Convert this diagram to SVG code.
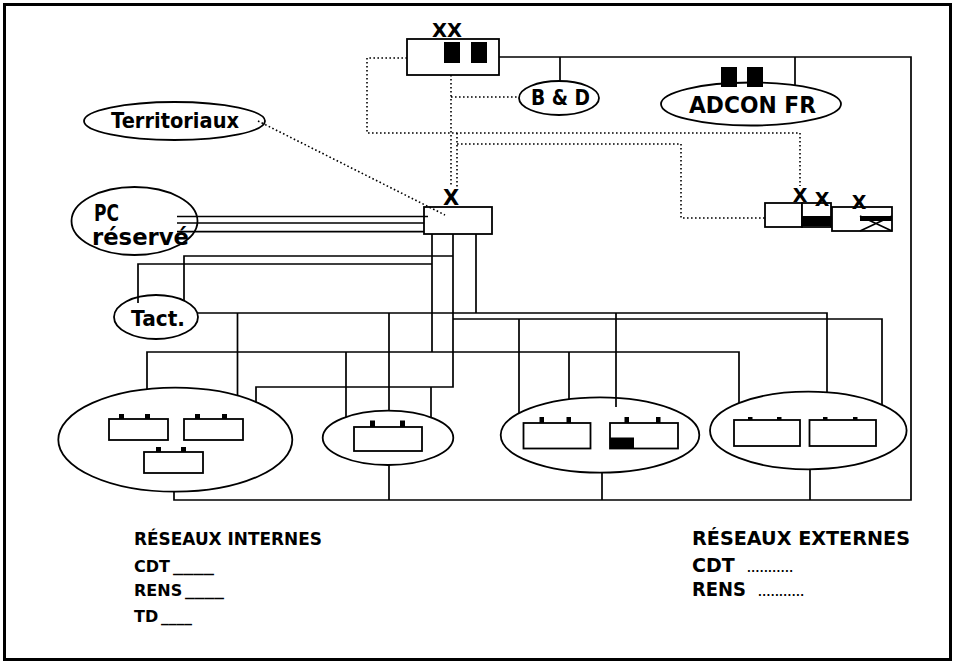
<svg xmlns="http://www.w3.org/2000/svg" width="955" height="664" viewBox="0 0 955 664">
<style>
.t { font-family: "DejaVu Sans", "Liberation Sans", sans-serif; font-weight: bold; fill: #000; }
.n { fill: #fff; stroke: #000; stroke-width: 1.8; }
.e { fill: none; stroke: #000; stroke-width: 1.8; }
.b { fill: #000; stroke: none; }
.s { fill: none; stroke: #000; stroke-width: 1.7; }
.d { fill: none; stroke: #000; stroke-width: 1.6; stroke-dasharray: 1.6 2.4; }
</style>
<rect x="0" y="0" width="955" height="664" fill="#fff"/>
<rect x="4.5" y="4.5" width="946" height="655" fill="none" stroke="#000" stroke-width="3"/>

<g id="node-xx">
  <rect class="n" x="407" y="39" width="92" height="36"/>
  <rect class="b" x="444" y="42" width="16" height="21"/>
  <rect class="b" x="471" y="42" width="16" height="21"/>
  <text class="t" x="432" y="37" font-size="20" textLength="30" lengthAdjust="spacingAndGlyphs">XX</text>
</g>
<g id="node-bd">
  <ellipse class="n" cx="559" cy="98" rx="40" ry="17"/>
  <text class="t" x="531" y="105" font-size="21" textLength="59" lengthAdjust="spacingAndGlyphs">B &amp; D</text>
</g>
<g id="node-adcon">
  <ellipse class="n" cx="751" cy="104" rx="90" ry="21.5"/>
  <rect class="b" x="721" y="67" width="16" height="20"/>
  <rect class="b" x="747" y="67" width="16" height="20"/>
  <text class="t" x="689" y="112.5" font-size="23" textLength="127" lengthAdjust="spacingAndGlyphs">ADCON  FR</text>
</g>
<g id="node-territoriaux">
  <ellipse class="n" cx="174.5" cy="121" rx="90.5" ry="19"/>
  <text class="t" x="111" y="128" font-size="21" textLength="128" lengthAdjust="spacingAndGlyphs">Territoriaux</text>
</g>
<g id="node-pc">
  <ellipse class="n" cx="134.5" cy="221" rx="63" ry="34"/>
  <text class="t" x="94" y="221" font-size="23" textLength="25" lengthAdjust="spacingAndGlyphs">PC</text>
  <text class="t" x="92" y="245" font-size="23" textLength="97" lengthAdjust="spacingAndGlyphs">réservé</text>
</g>
<g id="node-tact">
  <ellipse class="n" cx="156" cy="317" rx="42" ry="22"/>
  <text class="t" x="131" y="325.5" font-size="22" textLength="54" lengthAdjust="spacingAndGlyphs">Tact.</text>
</g>
<g id="node-x">
  <rect class="n" x="424" y="207" width="68" height="27"/>
  <text class="t" x="451" y="205" font-size="21" text-anchor="middle">X</text>
</g>
<g id="node-right-boxes">
  <rect class="n" x="765" y="203" width="37" height="24"/>
  <rect class="n" x="802" y="203" width="29" height="24"/>
  <rect class="b" x="802" y="216" width="29" height="10"/>
  <rect class="n" x="832" y="207" width="60" height="24"/>
  <rect class="b" x="860" y="216" width="32" height="5"/>
  <path class="s" d="M860,216 L892,231 M892,216 L860,231"/>
  <text class="t" x="800" y="201.5" font-size="19" text-anchor="middle">X</text>
  <text class="t" x="822" y="206" font-size="19" text-anchor="middle">X</text>
  <text class="t" x="859" y="208.5" font-size="19" text-anchor="middle">X</text>
</g>
<g id="node-group-1">
  <ellipse class="e" cx="175.3" cy="439.7" rx="117" ry="52"/>
  <rect class="e" x="109" y="419" width="59" height="21"/>
  <rect class="b" x="119" y="414" width="5" height="5"/>
  <rect class="b" x="145" y="414" width="5" height="5"/>
  <rect class="e" x="184" y="419" width="59" height="21"/>
  <rect class="b" x="195" y="414" width="5" height="5"/>
  <rect class="b" x="222" y="414" width="5" height="5"/>
  <rect class="e" x="144" y="452" width="59" height="21"/>
  <rect class="b" x="156" y="447" width="5" height="5"/>
  <rect class="b" x="181" y="447" width="5" height="5"/>
</g>
<g id="node-group-2">
  <ellipse class="e" cx="388" cy="437.8" rx="65.3" ry="27.2"/>
  <rect class="e" x="354" y="427" width="68" height="24"/>
  <rect class="b" x="370" y="420.5" width="5" height="6.5"/>
  <rect class="b" x="400" y="420.5" width="5" height="6.5"/>
</g>
<g id="node-group-3">
  <ellipse class="e" cx="600" cy="435" rx="99.3" ry="37.7"/>
  <rect class="e" x="523.5" y="423" width="67" height="25.5"/>
  <rect class="b" x="539.5" y="417" width="4.5" height="6"/>
  <rect class="b" x="566.5" y="417" width="4.5" height="6"/>
  <rect class="e" x="610" y="423" width="68" height="25.5"/>
  <rect class="b" x="624.5" y="417" width="4.5" height="6"/>
  <rect class="b" x="656" y="417" width="4.5" height="6"/>
  <rect class="b" x="610" y="437.5" width="24" height="11"/>
</g>
<g id="node-group-4">
  <ellipse class="e" cx="808.3" cy="430.5" rx="98.3" ry="38.8"/>
  <rect class="e" x="734" y="420" width="66" height="26"/>
  <rect class="b" x="748" y="417" width="4.5" height="3"/>
  <rect class="b" x="777" y="417" width="4.5" height="3"/>
  <rect class="e" x="809.5" y="420" width="66.5" height="26"/>
  <rect class="b" x="823" y="417" width="4.5" height="3"/>
  <rect class="b" x="853" y="417" width="4.5" height="3"/>
</g>

<g id="connectors">
  <path class="s" d="M499,57 H911 V500 H174 V491.5"/>
  <path class="s" d="M560,57 V82 M795,57 V85.5"/>
  <path class="s" d="M389,500 V465 M602,500 V472.7 M810,500 V469.3"/>
  <path class="s" d="M177,216.5 H428 M177,223 H424 M177,231.7 H424"/>
  <path class="s" d="M432,234 V352 M432,264 H138 V303"/>
  <path class="s" d="M453,234 V387 H256 V402 M453,256 H184 V300.5 M453,319 H882 V405 M519,319 V413"/>
  <path class="s" d="M476,234 V313"/>
  <path class="s" d="M197.5,313 H827 V392.5 M237.5,313 V395.5 M389,313 V410.7 M616,313 V407"/>
  <path class="s" d="M147,389 V352 H739 V403 M346,352 V417 M569,352 V399"/>
  <path class="s" d="M431,387 V417"/>
  <path class="d" d="M407,58 H367 V133 H800 V186"/>
  <path class="d" d="M451,75 V187 M451,97 H519"/>
  <path class="d" d="M457,133 V187 M457,144 H681 V218 H766"/>
  <path class="d" d="M258,121 L445,215"/>
</g>

<g id="legend">
  <text class="t" x="134" y="545" font-size="18" textLength="188" lengthAdjust="spacingAndGlyphs">RÉSEAUX  INTERNES</text>
  <text class="t" x="134" y="571.5" font-size="16">CDT</text>
  <text class="t" x="173" y="571.5" font-size="16" textLength="41" lengthAdjust="spacingAndGlyphs">____</text>
  <text class="t" x="134" y="596" font-size="16">RENS</text>
  <text class="t" x="185" y="596" font-size="16" textLength="39" lengthAdjust="spacingAndGlyphs">____</text>
  <text class="t" x="134" y="621.5" font-size="16">TD</text>
  <text class="t" x="161" y="621.5" font-size="16" textLength="31" lengthAdjust="spacingAndGlyphs">____</text>
  <text class="t" x="692" y="545" font-size="19" textLength="218" lengthAdjust="spacingAndGlyphs">RÉSEAUX  EXTERNES</text>
  <text class="t" x="692" y="571.5" font-size="19">CDT</text>
  <text class="t" x="747" y="571.5" font-size="10" textLength="46">...........</text>
  <text class="t" x="692" y="596" font-size="19" textLength="54" lengthAdjust="spacingAndGlyphs">RENS</text>
  <text class="t" x="758" y="596" font-size="10" textLength="46">...........</text>
</g>
</svg>
